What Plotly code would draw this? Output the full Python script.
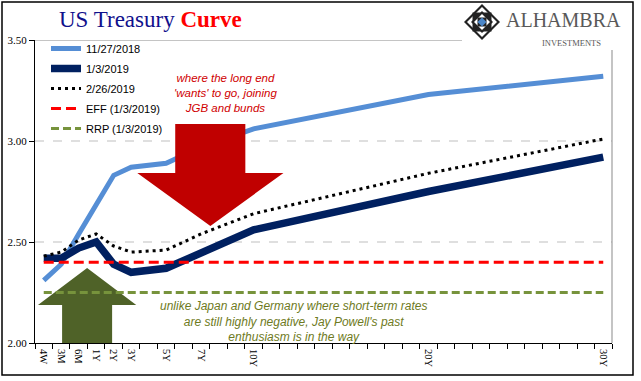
import plotly.graph_objects as go

# ---------------- data ----------------
maturities = ["4W", "3M", "6M", "1Y", "2Y", "3Y", "5Y", "7Y", "10Y", "20Y", "30Y"]
# position of each maturity on the 33-slot category axis
slots = [0, 1, 2, 3, 4, 5, 7, 9, 12, 22, 32]
n_slots = 33

curve_2018_11_27 = [2.31, 2.39, 2.54, 2.69, 2.83, 2.87, 2.89, 2.97, 3.06, 3.23, 3.32]
curve_2019_01_03 = [2.42, 2.42, 2.47, 2.50, 2.39, 2.35, 2.37, 2.45, 2.56, 2.75, 2.92]
curve_2019_02_26 = [2.43, 2.45, 2.51, 2.54, 2.48, 2.45, 2.46, 2.54, 2.64, 2.84, 3.01]
eff_rate = 2.40
rrp_rate = 2.25

y_ticks = [2.0, 2.5, 3.0, 3.5]

# ---------------- layout helpers (pixel -> paper) ----------------
W, H = 641, 381
L, R, T, B = 35, 29, 40, 38
PW, PH = W - L - R, H - T - B


def px(x):
    return (x - L) / PW


def py(y):
    return (H - B - y) / PH


serif = "Liberation Serif, Times New Roman, serif"
sans = "Liberation Sans, Arial, sans-serif"

fig = go.Figure()

x_first, x_last = slots[0], slots[-1]

fig.add_trace(go.Scatter(x=slots, y=curve_2018_11_27, mode="lines", name="11/27/2018",
                         legendgroup="a", line=dict(color="#558ED5", width=5)))
fig.add_trace(go.Scatter(x=slots, y=curve_2019_01_03, mode="lines", name="1/3/2019",
                         legendgroup="b", line=dict(color="#002060", width=7.5)))
fig.add_trace(go.Scatter(x=slots, y=curve_2019_02_26, mode="lines", name="2/26/2019",
                         legendgroup="c", line=dict(color="#000000", width=3, dash="3px,4px")))
fig.add_trace(go.Scatter(x=[x_first, x_last], y=[eff_rate, eff_rate], mode="lines",
                         name="EFF (1/3/2019)", legendgroup="d",
                         line=dict(color="#FF0000", width=3, dash="10px,5px")))
fig.add_trace(go.Scatter(x=[x_first, x_last], y=[rrp_rate, rrp_rate], mode="lines",
                         name="RRP (1/3/2019)", legendgroup="e",
                         line=dict(color="#77933C", width=3, dash="8px,4px")))

shapes = []
# gridlines
for gv in [2.5, 3.0]:
    shapes.append(dict(type="line", xref="paper", yref="y", x0=0, x1=1, y0=gv, y1=gv,
                       line=dict(color="#BFBFBF", width=1, dash="dash"), layer="below"))
shapes.append(dict(type="line", xref="paper", yref="y", x0=0, x1=px(462), y0=3.5, y1=3.5,
                   line=dict(color="#898989", width=1), layer="below"))
shapes.append(dict(type="line", xref="paper", yref="paper", x0=1, x1=1, y0=0, y1=py(50),
                   line=dict(color="#898989", width=1), layer="below"))

# red down arrow (data coords)
red_arrow = "M 7.52,3.084 L 11.53,3.084 L 11.53,2.842 L 13.71,2.842 L 9.53,2.579 L 5.35,2.842 L 7.52,2.842 Z"
shapes.append(dict(type="path", xref="x", yref="y", path=red_arrow,
                   fillcolor="#C00000", line=dict(width=0), layer="above"))
# olive up arrow
olive_arrow = "M 2.48,2.371 L 5.29,2.188 L 3.91,2.188 L 3.91,2.0 L 1.05,2.0 L 1.05,2.188 L -0.33,2.188 Z"
shapes.append(dict(type="path", xref="x", yref="y", path=olive_arrow,
                   fillcolor="#4F6228", line=dict(width=0), layer="below"))

# outer frame
shapes.append(dict(type="rect", xref="paper", yref="paper", x0=px(2), x1=px(633),
                   y0=py(375), y1=py(2), line=dict(color="black", width=1.5)))


# logo diamond
def diamond(cx, cy, r, fill, lw=0, lc="black"):
    p = f"M {px(cx)},{py(cy - r)} L {px(cx + r)},{py(cy)} L {px(cx)},{py(cy + r)} L {px(cx - r)},{py(cy)} Z"
    return dict(type="path", xref="paper", yref="paper", path=p, fillcolor=fill,
                line=dict(width=lw, color=lc))


def square(cx, cy, r, fill):
    return dict(type="rect", xref="paper", yref="paper", x0=px(cx - r), x1=px(cx + r),
                y0=py(cy + r), y1=py(cy - r), fillcolor=fill, line=dict(width=0))


cx, cy = 482, 22
shapes.append(diamond(cx, cy, 18, "#222222"))
shapes.append(diamond(cx, cy, 15, "white"))
shapes.append(square(cx, cy, 9.5, "#222222"))
shapes.append(diamond(cx, cy, 11, "#222222"))
shapes.append(diamond(cx, cy, 8, "white"))
shapes.append(square(cx, cy, 4.5, "#222222"))
shapes.append(diamond(cx, cy, 4.5, "#4A86C8"))

annotations = [
    dict(xref="paper", yref="paper", x=px(150), y=py(19.5), xanchor="center", yanchor="middle",
         showarrow=False,
         text="<span style='color:#10108C'>US Treasury</span> <b><span style='color:#FF0000'>Curve</span></b>",
         font=dict(family=serif, size=23, color="#10108C")),
    dict(xref="paper", yref="paper", x=px(563), y=py(20), xanchor="center", yanchor="middle",
         showarrow=False, text="ALHAMBRA", font=dict(family=serif, size=20, color="#595959")),
    dict(xref="paper", yref="paper", x=px(571), y=py(43), xanchor="center", yanchor="middle",
         showarrow=False, text="INVESTMENTS", font=dict(family=serif, size=8.5, color="#595959")),
    dict(xref="paper", yref="paper", x=px(225), y=py(93), xanchor="center", yanchor="middle",
         showarrow=False, align="center",
         text="<i>where the long end<br>'wants' to go, joining<br>JGB and bunds</i>",
         font=dict(family=sans, size=11.5, color="#D00000")),
    dict(xref="paper", yref="paper", x=px(293), y=py(321), xanchor="center", yanchor="middle",
         showarrow=False, align="center",
         text="<i>unlike Japan and Germany where short-term rates<br>are still highly negative, Jay Powell's past<br>enthusiasm is in the way</i>",
         font=dict(family=sans, size=12, color="#6E7A22")),
]

fig.update_layout(
    width=W, height=H,
    margin=dict(l=L, r=R, t=T, b=B, autoexpand=False),
    paper_bgcolor="white", plot_bgcolor="white",
    showlegend=True,
    legend=dict(x=px(46), y=py(34), xanchor="left", yanchor="top", tracegroupgap=1,
                font=dict(family=sans, size=11, color="black"),
                bgcolor="rgba(0,0,0,0)", borderwidth=0),
    shapes=shapes,
    annotations=annotations,
    xaxis=dict(range=[-0.5, n_slots - 0.5], tickmode="array", tickvals=slots, ticktext=maturities,
               tickangle=90, ticks="", ticklabelstandoff=3, showgrid=False, zeroline=False,
               showline=True, linecolor="black", linewidth=1,
               tickfont=dict(family=serif, size=10.5, color="black"),
               minor=dict(tickmode="array", tickvals=[i - 0.5 for i in range(n_slots + 1)],
                          ticks="outside", ticklen=5, tickcolor="black", tickwidth=1, showgrid=False),
               automargin=False),
    yaxis=dict(range=[2.0, 3.5], tickmode="array", tickvals=y_ticks, tickformat=".2f",
               ticks="outside", ticklen=5, tickcolor="black", showgrid=False, zeroline=False,
               showline=True, linecolor="black", linewidth=1,
               tickfont=dict(family=serif, size=11, color="black"), automargin=False),
)

fig.write_html("out.html", config={"displayModeBar": False},
               post_script="document.body.style.margin='0px';document.body.style.overflow='hidden';")
